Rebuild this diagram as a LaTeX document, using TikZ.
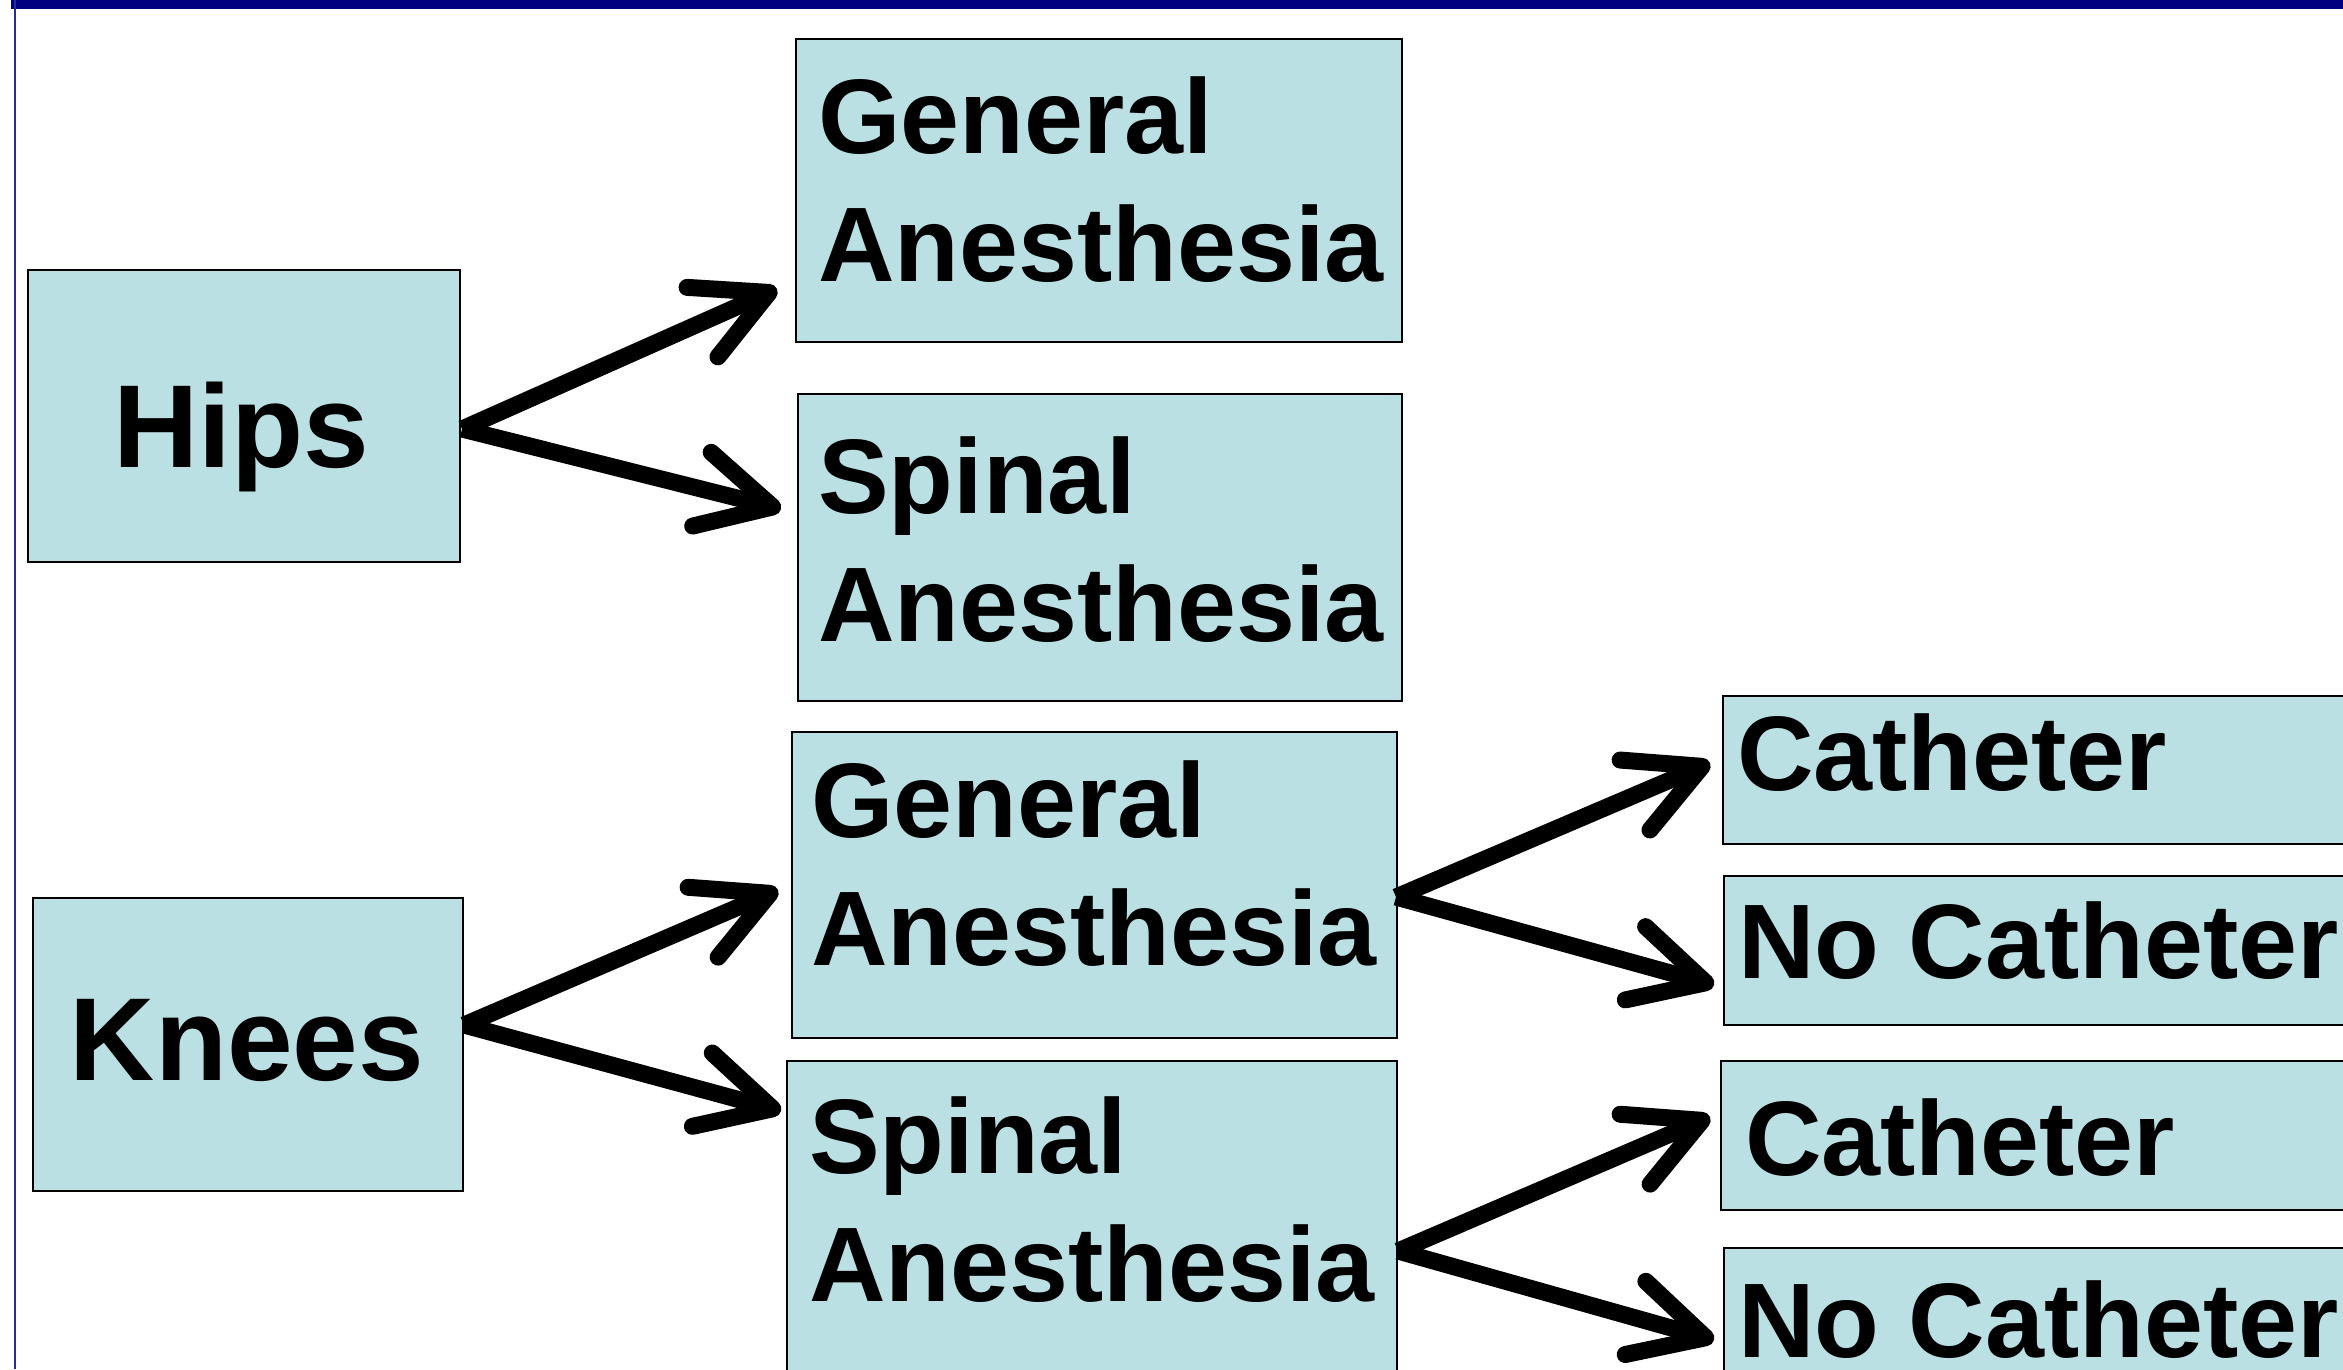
\documentclass[tikz,border=0pt]{standalone}
\usepackage{fontspec}
\setmainfont{Liberation Sans}
\usetikzlibrary{arrows.meta,calc}
\definecolor{boxfill}{RGB}{187,224,227}
\definecolor{barnavy}{RGB}{0,0,128}
\definecolor{edgeblue}{RGB}{40,40,160}
\begin{document}
\begin{tikzpicture}[x=1pt,y=-1pt,
  box/.style={draw=black,line width=2pt,fill=boxfill,anchor=north west,inner sep=0pt,outer sep=0pt},
  big/.style={inner sep=0pt,font=\fontsize{118}{140}\selectfont\bfseries,anchor=base},
  lbl/.style={inner sep=0pt,font=\fontsize{106}{128}\selectfont\bfseries,anchor=base west,align=left},
  arr/.style={line width=17pt,-{Straight Barb[length=73pt,width=76pt,round]}}]
\useasboundingbox (0,0) rectangle (2343,1369);
\clip (0,0) rectangle (2343,1369);
\fill[barnavy] (11,0) rectangle (2343,9);
\draw[edgeblue,line width=2pt] (15,0) -- (15,1369);
% boxes
\node[box,minimum width=432pt,minimum height=292pt] (hips) at (28,270) {};
\node[box,minimum width=606pt,minimum height=303pt] (ga1) at (796,39) {};
\node[box,minimum width=604pt,minimum height=307pt] (sa1) at (798,394) {};
\node[box,minimum width=430pt,minimum height=293pt] (knees) at (33,898) {};
\node[box,minimum width=605pt,minimum height=306pt] (ga2) at (792,732) {};
\node[box,minimum width=610pt,minimum height=400pt] (sa2) at (787,1061) {};
\node[box,minimum width=700pt,minimum height=148pt] (cath1) at (1723,696) {};
\node[box,minimum width=700pt,minimum height=149pt] (nocath1) at (1724,876) {};
\node[box,minimum width=700pt,minimum height=149pt] (cath2) at (1721,1061) {};
\node[box,minimum width=700pt,minimum height=200pt] (nocath2) at (1724,1248) {};
% texts (base anchor = baseline of last line)
\node[big] (hipsT) at (241,467) {Hips};
\node[big] (kneesT) at (247,1080) {Knees};
\node[lbl] (ga1T) at (818,281) {General\\Anesthesia};
\node[lbl] (sa1T) at (818,641) {Spinal\\Anesthesia};
\node[lbl] (ga2T) at (811,965) {General\\Anesthesia};
\node[lbl] (sa2T) at (809,1301) {Spinal\\Anesthesia};
\node[lbl] (c1T) at (1737,790) {Catheter};
\node[lbl] (n1T) at (1738,978) {No Catheter};
\node[lbl] (c2T) at (1745,1175) {Catheter};
\node[lbl] (n2T) at (1738,1357) {No Catheter};
% connectors
\draw[arr] ($(hips.north east)+(2,159)$) -- ($(ga1.north west)+(-19,250)$);
\draw[arr] ($(hips.north east)+(2,159)$) -- ($(sa1.north west)+(-17,115)$);
\draw[arr] ($(knees.north east)+(1,127)$) -- ($(ga2.north west)+(-14,158)$);
\draw[arr] ($(knees.north east)+(1,127)$) -- ($(sa2.north west)+(-6,50)$);
\draw[arr] ($(ga2.north east)+(-1,165)$) -- ($(cath1.north west)+(-13,67)$);
\draw[arr] ($(ga2.north east)+(-1,165)$) -- ($(nocath1.north west)+(-10,109)$);
\draw[arr] ($(sa2.north east)+(1,190)$) -- ($(cath2.north west)+(-11,56)$);
\draw[arr] ($(sa2.north east)+(1,190)$) -- ($(nocath2.north west)+(-10,92)$);
\end{tikzpicture}
\end{document}
